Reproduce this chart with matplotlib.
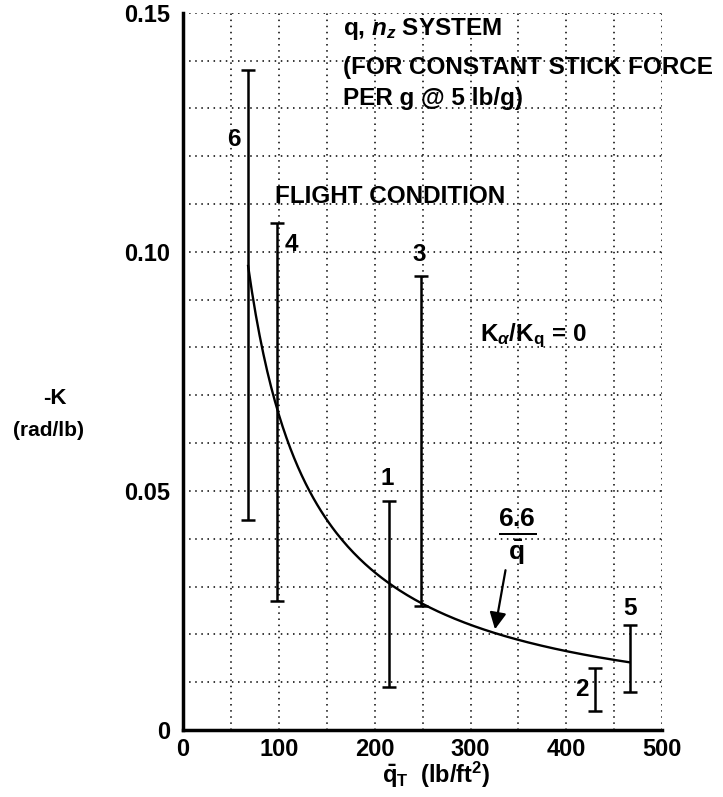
import numpy as np
import matplotlib
matplotlib.use("Agg")
import matplotlib.pyplot as plt

plt.rcParams["font.family"] = ["Liberation Sans", "DejaVu Sans"]
plt.rcParams["font.weight"] = "bold"
plt.rcParams["mathtext.fontset"] = "custom"
plt.rcParams["mathtext.rm"] = "Liberation Sans:bold"
plt.rcParams["mathtext.bf"] = "Liberation Sans:bold"
plt.rcParams["mathtext.it"] = "Liberation Sans:bold:italic"

# flight conditions: dynamic pressure and -K range (rad/lb)
conditions = ["1", "2", "3", "4", "5", "6"]
q_bar = [215, 430, 248, 98, 466, 68]
k_high = [0.048, 0.013, 0.095, 0.106, 0.022, 0.138]
k_low = [0.009, 0.004, 0.026, 0.027, 0.008, 0.044]

# constant stick force curve K = 6.6 / q
k_const = 6.6
q_curve_start, q_curve_end = 68, 466

x_ticks = [0, 100, 200, 300, 400, 500]
y_ticks = [0, 0.05, 0.10, 0.15]
y_tick_labels = ["0", "0.05", "0.10", "0.15"]

fig = plt.figure(figsize=(7.23, 7.97), dpi=100)
ax = fig.add_axes([0.253, 0.084, 0.663, 0.900])

ax.set_xlim(0, 500)
ax.set_ylim(0, 0.15)
ax.set_xticks(x_ticks)
ax.set_yticks(y_ticks)
ax.set_yticklabels(y_tick_labels)
ax.set_xticks(np.arange(0, 501, 50), minor=True)
ax.set_yticks(np.arange(0, 0.1501, 0.01), minor=True)
ax.tick_params(which="both", length=0)
ax.tick_params(axis="y", pad=9, labelsize=17)
ax.tick_params(axis="x", pad=6, labelsize=17)
ax.grid(which="both", color="k", linestyle=(0, (1, 3)), linewidth=1.1)
for side in ("top", "right"):
    ax.spines[side].set_visible(False)
for side in ("left", "bottom"):
    ax.spines[side].set_linewidth(2.5)

# 6.6/q curve
qq = np.linspace(q_curve_start, q_curve_end, 200)
ax.plot(qq, k_const / qq, color="k", lw=1.7)

# condition error bars
mid = [(h + l) / 2 for h, l in zip(k_high, k_low)]
err = [[m - l for m, l in zip(mid, k_low)], [h - m for h, m in zip(k_high, mid)]]
ax.errorbar(q_bar, mid, yerr=err, fmt="none", ecolor="k",
            elinewidth=1.8, capsize=4.7, capthick=1.8)

label_pos = {"1": (213, 0.0525), "2": (416, 0.0085), "3": (247, 0.0995),
             "4": (113, 0.1015), "5": (466, 0.0255), "6": (53, 0.1235)}
for c in conditions:
    x, y = label_pos[c]
    ax.text(x, y, c, ha="center", va="center", fontsize=17.5)

ax.text(96, 0.1115, "FLIGHT CONDITION", ha="left", va="center", fontsize=17.5)
ax.text(365, 0.0825, r"K$_\alpha$/K$_\mathrm{q}$ = 0", ha="center",
        va="center", fontsize=17.5)

ax.text(167, 0.1465, r"q, $n_z$ SYSTEM", ha="left", va="center", fontsize=17.5)
ax.text(167, 0.1385, "(FOR CONSTANT STICK FORCE", ha="left", va="center",
        fontsize=17.5)
ax.text(167, 0.1320, "PER g @ 5 lb/g)", ha="left", va="center", fontsize=17.5)

ax.text(349, 0.0406, r"$\frac{\mathbf{6.6}}{\bar{\mathrm{q}}}$", ha="center",
        va="center", fontsize=27)
ax.annotate("", xy=(325, 0.0205), xytext=(337, 0.034),
            arrowprops=dict(arrowstyle="-|>", color="k", lw=1.6,
                            mutation_scale=25))

fig.text(55 / 723, 1 - 398 / 797, "-K", ha="center", va="center", fontsize=16)
fig.text(48 / 723, 1 - 430 / 797, "(rad/lb)", ha="center", va="center",
         fontsize=15)
fig.text(436 / 723, 1 - 775 / 797, r"$\bar{\mathrm{q}}_\mathrm{T}$  (lb/ft$^2$)",
         ha="center", va="center", fontsize=17)

fig.savefig("out.png", dpi=100, facecolor="white")
